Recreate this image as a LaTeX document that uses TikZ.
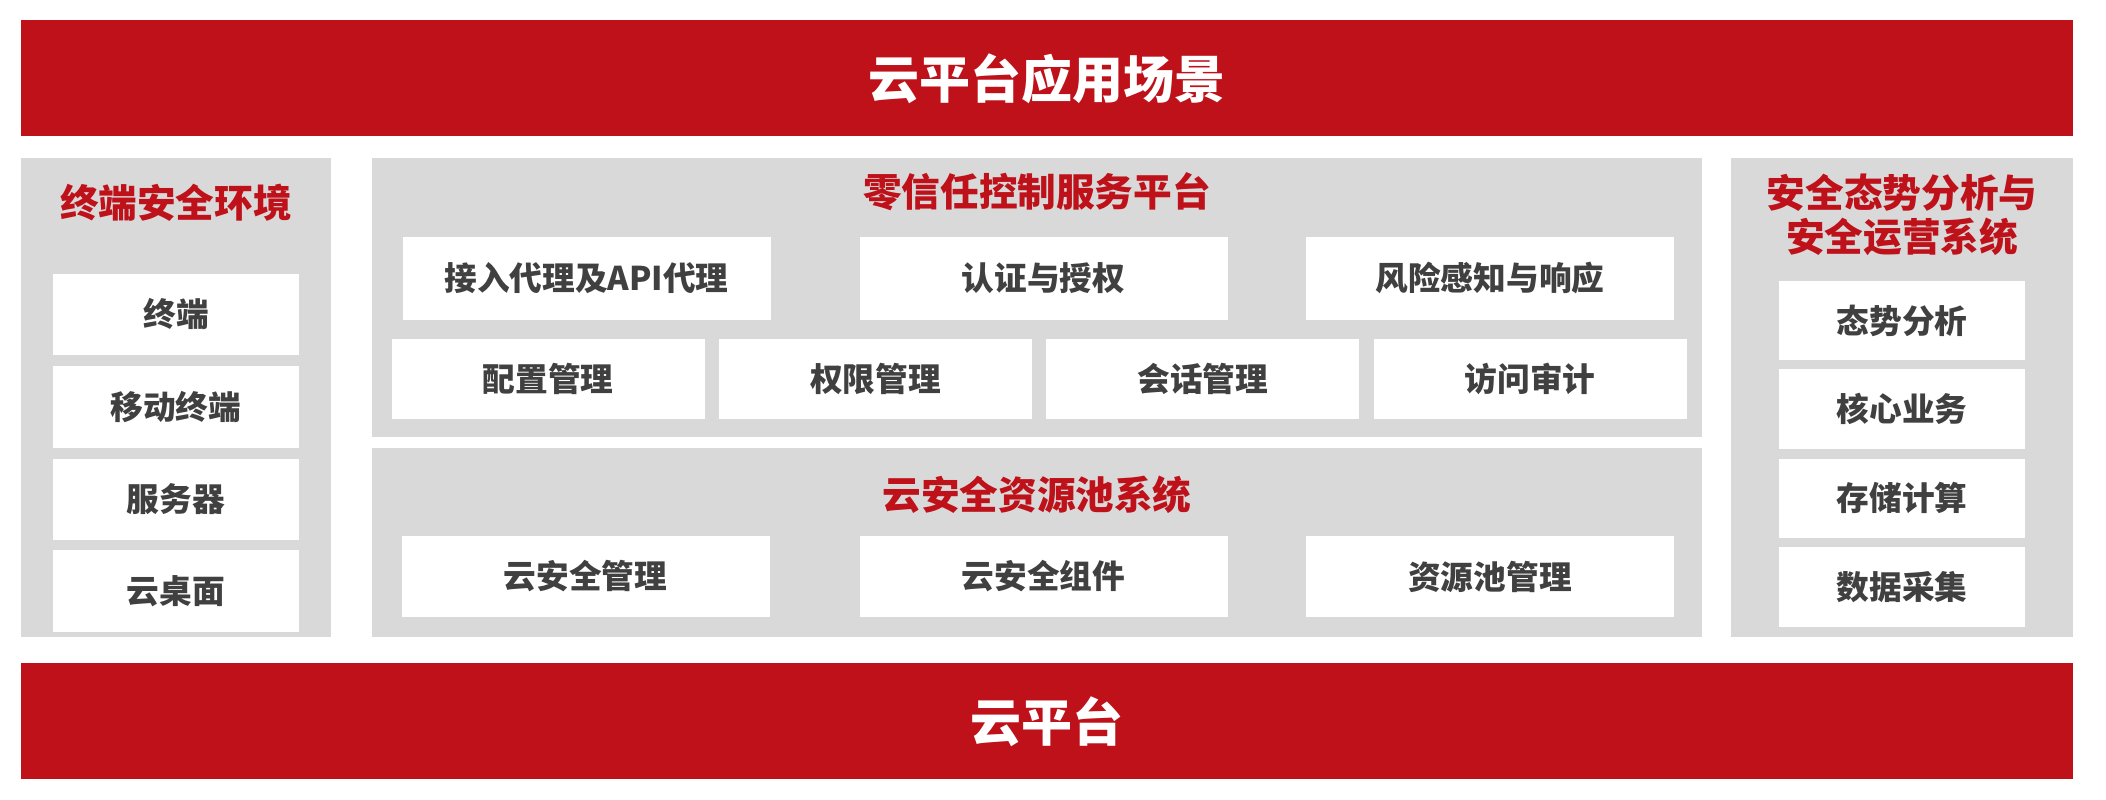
\documentclass[tikz,border=0pt]{standalone}
\usepackage{fontspec}
\setmainfont{Noto Sans CJK SC}
\usetikzlibrary{positioning}

\definecolor{cloudred}{HTML}{BE1119}
\definecolor{panelgray}{HTML}{D9D9D9}
\definecolor{labelgray}{HTML}{404040}

\begin{document}
\begin{tikzpicture}[node distance=0.1cm]
    \tikzstyle{layer}=[rectangle,fill=cloudred,text=white,minimum width=20.52cm,minimum height=1.16cm,inner sep=0pt,font=\fontsize{14.5}{17}\selectfont\bfseries]
    \tikzstyle{zone}=[rectangle,fill=panelgray,inner sep=0pt,minimum height=4.79cm]
    \tikzstyle{heading}=[text=cloudred,align=center,inner sep=0pt,font=\fontsize{11}{12.5}\selectfont\bfseries]
    \tikzstyle{cell}=[rectangle,fill=white,text=labelgray,inner sep=0pt,minimum width=2.46cm,minimum height=0.815cm,font=\fontsize{9.3}{11}\selectfont\bfseries]

    \useasboundingbox (0,0) rectangle (21.06,8);

    \begin{scope}
      \node [layer] at (10.47, 7.215) (apps)  {云平台应用场景};
      \node [layer] at (10.47, 0.785) (cloud) {云平台};

      % terminal side
      \node [zone, minimum width=3.10cm] at (1.76, 4.025) (endzone) {};
      \node [heading] at (1.76, 5.97) (endtitle) {终端安全环境};
      \node [cell] at (1.76, 4.855) (term) {终端};
      \node [cell] (mobile)  [below=0.095cm of term]   {移动终端};
      \node [cell] (server)  [below=0.095cm of mobile] {服务器};
      \node [cell] (desktop) [below=0.09cm of server]  {云桌面};

      % zero trust platform
      \node [zone, minimum width=13.30cm, minimum height=2.79cm] at (10.37, 5.025) (ztzone) {};
      \node [heading] at (10.37, 6.08) (zttitle) {零信任控制服务平台};
      \node [cell, minimum width=3.68cm, minimum height=0.83cm] at (5.865, 5.215) (proxy) {接入代理及API代理};
      \node [cell, minimum width=3.68cm, minimum height=0.83cm] at (10.435, 5.215) (auth) {认证与授权};
      \node [cell, minimum width=3.68cm, minimum height=0.83cm] at (14.90, 5.215) (risk) {风险感知与响应};
      \node [cell, minimum width=3.13cm, minimum height=0.80cm] at (5.48, 4.21) (config) {配置管理};
      \node [cell, minimum width=3.13cm, minimum height=0.80cm] (perm)    [right=0.13cm of config]  {权限管理};
      \node [cell, minimum width=3.13cm, minimum height=0.80cm] (session) [right=0.13cm of perm]    {会话管理};
      \node [cell, minimum width=3.13cm, minimum height=0.80cm] (audit)   [right=0.13cm of session] {访问审计};

      % resource pool
      \node [zone, minimum width=13.30cm, minimum height=1.89cm] at (10.37, 2.575) (poolzone) {};
      \node [heading] at (10.37, 3.05) (pooltitle) {云安全资源池系统};
      \node [cell, minimum width=3.68cm] at (5.855, 2.235) (secmgmt) {云安全管理};
      \node [cell, minimum width=3.68cm] at (10.435, 2.235) (secpart) {云安全组件};
      \node [cell, minimum width=3.68cm] at (14.90, 2.235) (poolmgmt) {资源池管理};

      % situation analysis
      \node [zone, minimum width=3.42cm] at (19.02, 4.025) (opszone) {};
      \node [heading] at (19.02, 5.85) (opstitle) {安全态势分析与\\安全运营系统};
      \node [cell, minimum height=0.79cm] at (19.02, 4.795) (posture) {态势分析};
      \node [cell, minimum height=0.80cm] (core)    [below=0.08cm of posture] {核心业务};
      \node [cell, minimum height=0.79cm] (storage) [below=0.08cm of core]    {存储计算};
      \node [cell, minimum height=0.80cm] (collect) [below=0.075cm of storage] {数据采集};
    \end{scope}

\end{tikzpicture}
\end{document}
